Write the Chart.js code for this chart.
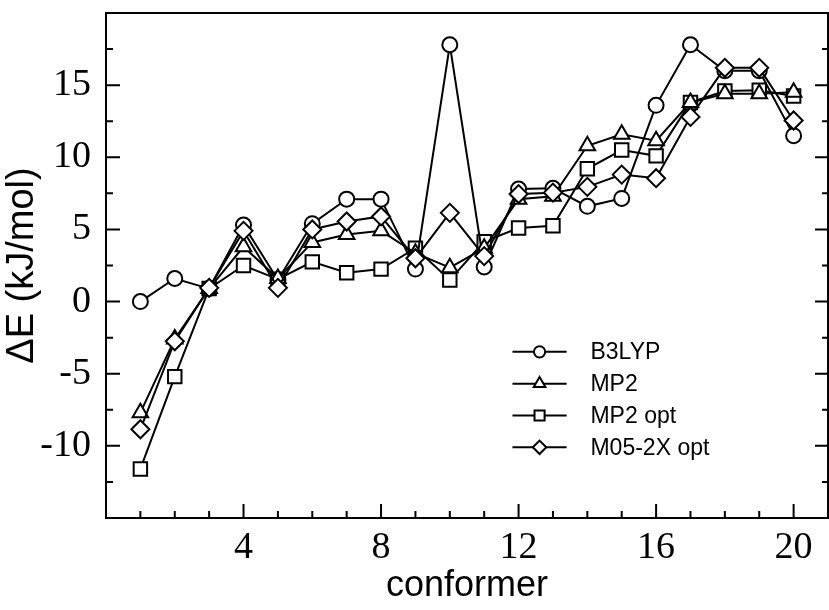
<!DOCTYPE html>
<html>
<head>
<meta charset="utf-8">
<script src="https://cdn.jsdelivr.net/npm/chart.js@4.4.0/dist/chart.umd.min.js"></script>
<style>
    html, body { margin: 0; padding: 0; background: #ffffff; }
    #wrap { width: 829px; height: 610px; position: relative; }
</style>
</head>
<body>
<div id="wrap"><canvas id="chart"></canvas></div>
<script>
// conformer index on x
const conformers = [1, 2, 3, 4, 5, 6, 7, 8, 9, 10, 11, 12, 13, 14, 15, 16, 17, 18, 19, 20];

// relative energies, kJ/mol
const b3lyp   = [0.0, 1.6, 0.9, 5.3, 1.5, 5.4, 7.1, 7.1, 2.25, 17.8, 2.4, 7.8, 7.85, 6.6, 7.15, 13.6, 17.8, 16.0, 16.0, 11.5];
const mp2     = [-7.7, -2.6, 0.9, 3.8, 1.6, 4.1, 4.65, 4.9, 3.35, 2.35, 3.7, 7.1, 7.3, 10.8, 11.6, 11.15, 13.8, 14.4, 14.4, 14.5];
const mp2Opt  = [-11.6, -5.2, 0.9, 2.5, 1.55, 2.75, 2.0, 2.25, 3.7, 1.5, 4.15, 5.1, 5.25, 9.2, 10.5, 10.1, 13.8, 14.6, 14.65, 14.25];
const m052xOpt = [-8.85, -2.75, 0.95, 4.9, 0.95, 5.0, 5.55, 5.9, 3.0, 6.15, 3.15, 7.45, 7.55, 7.95, 8.8, 8.55, 12.8, 16.2, 16.2, 12.55];

const seriesNames = ["B3LYP", "MP2", "MP2 opt", "M05-2X opt"];

// axis tick labels
const xTickLabels = [4, 8, 12, 16, 20];
const yTickLabels = [-10, -5, 0, 5, 10, 15];

const serif = '"Liberation Serif", "Times New Roman", serif';
const sans = '"Liberation Sans", Arial, sans-serif';

function toPoints(values) {
    return conformers.map((c, i) => ({ x: c, y: values[i] }));
}

function series(label, values, pointStyle, radius, order) {
    return {
        label: label,
        data: toPoints(values),
        borderColor: "#000000",
        borderWidth: 2,
        pointStyle: pointStyle,
        pointRadius: radius,
        pointHoverRadius: radius,
        pointBackgroundColor: "#ffffff",
        pointBorderColor: "#000000",
        pointBorderWidth: 2,
        tension: 0,
        fill: false,
        order: order,
        clip: false,
    };
}

// box around the plot with inward ticks (minor every 1 / 2.5)
const frameTicks = {
    id: "frameTicks",
    afterDraw(chart) {
        const { ctx, chartArea: a, scales } = chart;
        const xs = scales.x;
        const ys = scales.y;
        ctx.save();
        ctx.strokeStyle = "#000000";
        ctx.lineWidth = 2;
        ctx.strokeRect(a.left, a.top, a.right - a.left, a.bottom - a.top);

        ctx.beginPath();
        for (let v = Math.ceil(xs.min); v <= xs.max; v++) {
            if (v === xs.min || v === xs.max) continue;
            const px = xs.getPixelForValue(v);
            const len = v % 4 === 0 ? 14 : 7;
            ctx.moveTo(px, a.bottom);
            ctx.lineTo(px, a.bottom - len);
        }
        for (let v = ys.min; v <= ys.max; v += 2.5) {
            const py = ys.getPixelForValue(v);
            const len = v % 5 === 0 ? 14 : 7;
            ctx.moveTo(a.left, py);
            ctx.lineTo(a.left + len, py);
            ctx.moveTo(a.right, py);
            ctx.lineTo(a.right - len + 1, py);
        }
        ctx.stroke();
        ctx.restore();
    },
};

// legend inside the plot: line + marker + name
const insideLegend = {
    id: "insideLegend",
    afterDraw(chart) {
        const { ctx, chartArea: a } = chart;
        const w = a.right - a.left;
        const h = a.bottom - a.top;
        const x0 = a.left + w * 0.563;
        const x1 = a.left + w * 0.638;
        const xt = a.left + w * 0.671;
        const yStart = a.top + h * 0.671;
        const rowGap = h * 0.063;
        ctx.save();
        chart.data.datasets.forEach((ds, i) => {
            const y = yStart + i * rowGap;
            ctx.strokeStyle = "#000000";
            ctx.lineWidth = 2;
            ctx.beginPath();
            ctx.moveTo(x0, y);
            ctx.lineTo(x1, y);
            ctx.stroke();
            ctx.fillStyle = "#ffffff";
            Chart.helpers.drawPoint(ctx, {
                pointStyle: ds.pointStyle,
                radius: ds.pointRadius * 0.75,
                rotation: 0,
                borderWidth: 2,
            }, (x0 + x1) / 2, y);
            ctx.fillStyle = "#000000";
            ctx.font = "23px " + sans;
            ctx.textBaseline = "middle";
            ctx.textAlign = "left";
            ctx.fillText(ds.label, xt, y + 1);
        });
        ctx.restore();
    },
};

new Chart(document.getElementById("chart"), {
    type: "line",
    data: {
        datasets: [
            series(seriesNames[0], b3lyp, "circle", 7.5, 2),
            series(seriesNames[1], mp2, "triangle", 9, 1),
            series(seriesNames[2], mp2Opt, "rect", 9.5, 3),
            series(seriesNames[3], m052xOpt, "rectRot", 9, 0),
        ],
    },
    options: {
        responsive: true,
        maintainAspectRatio: false,
        animation: false,
        layout: {
            autoPadding: false,
            padding: { top: 13, right: 1, left: 0, bottom: 0 },
        },
        plugins: {
            legend: { display: false },
            tooltip: { enabled: false },
        },
        scales: {
            x: {
                type: "linear",
                min: 0,
                max: 21,
                grid: { display: false, drawTicks: false },
                border: { display: false },
                afterBuildTicks: (scale) => {
                    scale.ticks = xTickLabels.map((v) => ({ value: v }));
                },
                afterFit: (scale) => {
                    scale.height = 92;
                    scale.paddingLeft = 0;
                    scale.paddingRight = 0;
                },
                ticks: {
                    autoSkip: false,
                    maxRotation: 0,
                    color: "#000000",
                    padding: 7,
                    font: { family: serif, size: 38 },
                },
                title: {
                    display: true,
                    text: "conformer",
                    color: "#000000",
                    font: { family: sans, size: 36 },
                    padding: { top: 0, bottom: 2 },
                },
            },
            y: {
                type: "linear",
                min: -15,
                max: 20,
                grid: { display: false, drawTicks: false },
                border: { display: false },
                afterBuildTicks: (scale) => {
                    scale.ticks = yTickLabels.map((v) => ({ value: v }));
                },
                afterFit: (scale) => {
                    scale.width = 106;
                    scale.paddingTop = 0;
                    scale.paddingBottom = 0;
                },
                ticks: {
                    autoSkip: false,
                    color: "#000000",
                    padding: 15,
                    font: { family: serif, size: 38 },
                },
                title: {
                    display: true,
                    text: "ΔE (kJ/mol)",
                    color: "#000000",
                    font: { family: sans, size: 38 },
                    padding: { top: 0, bottom: 0 },
                },
            },
        },
    },
    plugins: [frameTicks, insideLegend],
});
</script>
</body>
</html>
